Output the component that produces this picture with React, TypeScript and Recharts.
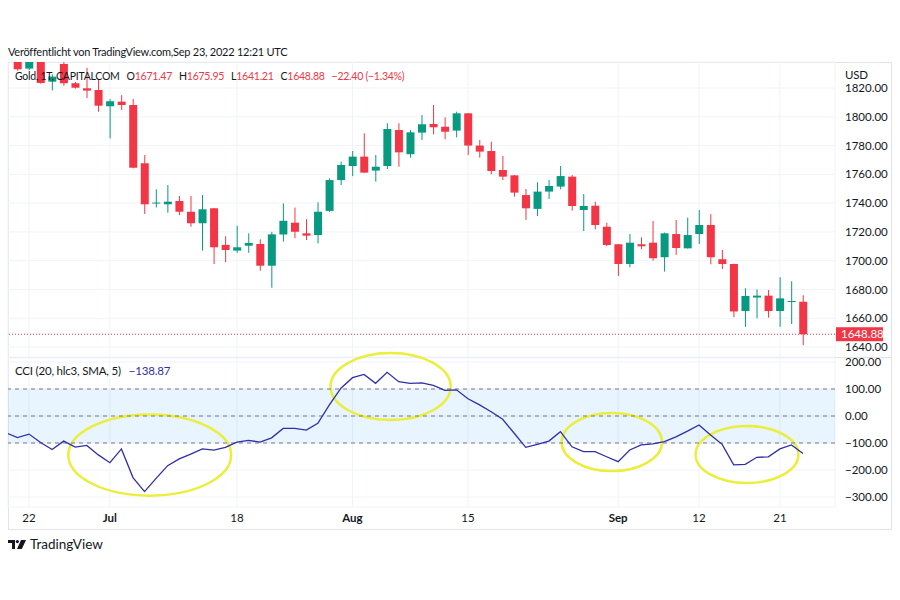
import { ComposedChart, Bar, Line, XAxis, YAxis, CartesianGrid, ReferenceLine, ReferenceArea } from 'recharts'

const FONT = 'Lato, "Noto Sans", sans-serif'
const TEXT = '#131722'
const RED = '#f23645'
const GREEN = '#089981'
const CCI_COLOR = '#2f2fa8'
const YELLOW = '#ebee3a'

// daily candles, Jun 21 – Sep 23 2022 (index 0..68)
const OPEN = [
  1840, 1833.5, 1842, 1824.4, 1836.7, 1823.3, 1819.8, 1818.6, 1807.3, 1810.5,
  1808.2, 1767.7, 1739.9, 1739.2, 1741.5, 1734, 1726, 1736.4, 1711, 1707,
  1710.4, 1711.6, 1696.5, 1718.2, 1726.4, 1719, 1717.8, 1734.6, 1756, 1765.8,
  1772.3, 1762.6, 1765.8, 1790.8, 1774, 1789, 1795, 1793.1, 1790.4, 1802.4,
  1780, 1776.2, 1763, 1759.3, 1745.6, 1736, 1748, 1751.5, 1758.4, 1735.2,
  1738.2, 1723.6, 1711.4, 1697.7, 1711.4, 1712.5, 1702.4, 1718.5, 1708.6, 1718.5,
  1724.8, 1701, 1697.7, 1665, 1674.4, 1675.7, 1665, 1671.5, 1671.47,
]
const HIGH = [
  1846, 1846, 1848, 1829.5, 1838, 1824.2, 1834, 1825.6, 1812.3, 1815,
  1812.4, 1773.4, 1749.6, 1752.6, 1745, 1745, 1745.6, 1736.6, 1717, 1724.3,
  1719, 1714.8, 1720, 1739.8, 1736.9, 1728.8, 1740.5, 1757.2, 1768.8, 1776.2,
  1788.5, 1773.4, 1795.5, 1795.5, 1790.8, 1801.2, 1808.2, 1799.6, 1803.5, 1802.6,
  1783.9, 1782.7, 1772.7, 1759.5, 1749.8, 1754.5, 1756, 1765.8, 1759.5, 1746.3,
  1741, 1726.4, 1711.6, 1718.5, 1716.2, 1727.6, 1719.5, 1728.3, 1729.9, 1735.2,
  1732.3, 1707.4, 1697.9, 1680.8, 1680, 1679.6, 1688.5, 1685.7, 1675.95,
]
const LOW = [
  1832, 1832.5, 1823, 1818.3, 1821.5, 1819.6, 1813, 1803.5, 1785, 1804.7,
  1764.2, 1732.4, 1737, 1733.3, 1731.7, 1723.6, 1707, 1697.7, 1699, 1705.5,
  1705.5, 1693, 1681.2, 1713.2, 1715.6, 1714.4, 1712, 1734, 1752.6, 1758.8,
  1761, 1754.9, 1763.7, 1765.3, 1771.6, 1783.9, 1787.8, 1784.3, 1785.7, 1773.4,
  1771.6, 1760, 1756, 1744.5, 1728.3, 1731, 1742.9, 1749.6, 1734.8, 1720.6,
  1721.8, 1710.2, 1689.4, 1695.4, 1708, 1700, 1692.4, 1704, 1708.4, 1711.6,
  1697.5, 1694.2, 1660.7, 1654, 1660, 1660.4, 1654, 1656, 1641.21,
]
const CLOSE = [
  1833, 1841, 1823.5, 1827.9, 1823.3, 1820.2, 1818.2, 1807.7, 1810.8, 1808.2,
  1764.6, 1739.2, 1740.4, 1741, 1734, 1726, 1735.7, 1709.3, 1707.4, 1709.3,
  1712.3, 1696.5, 1718.3, 1727.7, 1720.1, 1717.4, 1734, 1756, 1766.5, 1772.3,
  1761.2, 1765.3, 1791.5, 1775.3, 1789.2, 1794.8, 1792.7, 1789.6, 1802.4, 1780,
  1775.8, 1762.3, 1758.4, 1747.3, 1736.4, 1748, 1751.9, 1758.8, 1738, 1738,
  1724.8, 1710.9, 1697.7, 1712.5, 1710, 1701.7, 1719, 1708.8, 1717.8, 1724.8,
  1702.4, 1697.7, 1664.7, 1675.5, 1675.7, 1665, 1673.8, 1672, 1648.88,
]

// CCI (20, hlc3) values, index -1..68
const CCI = [
  -62,
  -80, -67, -98, -124, -93, -115, -109, -144, -173, -122,
  -228, -280, -231, -184, -159, -141, -122, -126, -116, -97,
  -90, -97, -81, -46, -46, -52, -27, 41, 103, 142,
  154, 121, 162, 127, 121, 123, 113, 95, 97, 64,
  41, 16, -12, -64, -116, -105, -93, -58, -114, -132,
  -132, -151, -169, -126, -107, -103, -95, -77, -56, -33,
  -70, -105, -181, -179, -153, -151, -122, -107, -138.87,
]

const TIME_TICKS = [1, 8, 19, 29, 39, 52, 59, 66]
const TIME_LABELS = ['22', 'Jul', '18', 'Aug', '15', 'Sep', '12', '21']
const MONTHS = ['Jul', 'Aug', 'Sep']
const PRICE_TICKS = [1640, 1660, 1680, 1700, 1720, 1740, 1760, 1780, 1800, 1820]
const CCI_TICKS = [-300, -200, -100, 0, 100, 200]
const CCI_BANDS = [100, 0, -100]
const LAST_CLOSE = 1648.88

// legend line: [prefix, value]
const OHLC = [['O', '1671.47'], ['H', '1675.95'], ['L', '1641.21'], ['C', '1648.88']]

// hand-drawn highlight ellipses: [x1, x2, y1, y2] in bar index / CCI units
const ELLIPSES = [
  [4.4, 18.5, -295, 6],
  [27.1, 37.5, -15, 233],
  [47.1, 55.8, -204, 11],
  [58.7, 67.6, -248, -37],
]

const candles = OPEN.map((o, i) => ({ i, o, h: HIGH[i], l: LOW[i], c: CLOSE[i] }))
const cciData = CCI.map((v, k) => ({ i: k - 1, cci: v }))

const fmt = (v: number) => (v < 0 ? '\u2212' : '') + Math.abs(v).toFixed(2)

const Candle = (props: any) => {
  const { x, y, width, height, payload } = props
  const { o, h, l, c } = payload
  const color = c >= o ? GREEN : RED
  const k = height / (h - l || 1)
  const yo = y + (h - o) * k
  const yc = y + (h - c) * k
  const top = Math.min(yo, yc)
  const cx = x + width / 2
  return (
    <g>
      <line x1={cx} x2={cx} y1={y} y2={y + height} stroke={color} strokeWidth={1} />
      <rect x={x} y={top} width={width} height={Math.max(1, Math.abs(yo - yc))} fill={color} />
    </g>
  )
}

const PriceTag = (props: any) => {
  const vb = props.viewBox
  if (!vb) return null
  const x = vb.x + vb.width + 1
  return (
    <g>
      <rect x={x} y={vb.y - 7} width={47} height={14} fill={RED} />
      <text x={x + 5} y={vb.y + 4} fill="#fff" fontSize={11.5} fontFamily={FONT}>{LAST_CLOSE.toFixed(2)}</text>
    </g>
  )
}

const TimeTick = (props: any) => {
  const { x, y, payload } = props
  const label = TIME_LABELS[TIME_TICKS.indexOf(payload.value)]
  return (
    <text x={x} y={y + 15} textAnchor="middle" fontSize={11.5} fontFamily={FONT} fill={TEXT}
      fontWeight={MONTHS.includes(label) ? 700 : 400}>{label}</text>
  )
}

const Ellipse = (props: any) => {
  const { x, y, width, height } = props
  return <ellipse cx={x + width / 2} cy={y + height / 2} rx={Math.abs(width) / 2} ry={Math.abs(height) / 2}
    fill="none" stroke={YELLOW} strokeWidth={2.5} />
}

const axisTick = { fill: TEXT, fontSize: 11.5, fontFamily: FONT }
const abs = (left: number, top: number) => ({ position: 'absolute' as const, left, top })
const legend = { fontSize: 11.5, lineHeight: '16px', whiteSpace: 'nowrap' as const, letterSpacing: '-0.2px' }

export default function App() {
  return (
    <div style={{ position: 'absolute', left: 0, top: 0, width: 900, height: 600, background: '#fff', fontFamily: FONT, color: TEXT, overflow: 'hidden' }}>
      <div style={{ ...abs(8, 62), width: 884, height: 468, border: '1px solid #e0e3eb', boxSizing: 'border-box' }} />
      <div style={{ ...abs(8, 357), width: 884, height: 1, background: '#e0e3eb' }} />

      <div style={abs(0, 0)}>
        <ComposedChart width={900} height={600} data={candles} margin={{ top: 62, right: 8, bottom: 243, left: 8 }}>
          <CartesianGrid stroke="#f0f3fa" />
          <XAxis type="number" dataKey="i" domain={[-0.82, 70.77]} ticks={TIME_TICKS} allowDataOverflow hide />
          <YAxis orientation="right" domain={[1633.06, 1838.07]} ticks={PRICE_TICKS} allowDataOverflow width={57}
            axisLine={false} tickLine={false} tickSize={6} tickMargin={4} tick={axisTick} tickFormatter={fmt} />
          <ReferenceLine y={LAST_CLOSE} stroke={RED} strokeDasharray="1 2" label={<PriceTag />} />
          <Bar dataKey={(d: any) => [d.l, d.h]} barSize={8} shape={<Candle />} isAnimationActive={false} />
        </ComposedChart>
      </div>

      <div style={abs(0, 0)}>
        <ComposedChart width={900} height={600} data={cciData} margin={{ top: 358, right: 8, bottom: 71, left: 8 }}>
          <ReferenceArea y1={-100} y2={100} fill="#2196f3" fillOpacity={0.1} stroke="none" />
          <CartesianGrid stroke="#f0f3fa" />
          <XAxis type="number" dataKey="i" domain={[-0.82, 70.77]} ticks={TIME_TICKS} allowDataOverflow height={22}
            axisLine={false} tickLine={false} tickSize={0} tickMargin={0} tick={<TimeTick />} interval={0} />
          <YAxis orientation="right" domain={[-337, 214.8]} ticks={CCI_TICKS} allowDataOverflow width={57}
            axisLine={false} tickLine={false} tickSize={6} tickMargin={4} tick={axisTick} tickFormatter={fmt} />
          {CCI_BANDS.map((v) => (
            <ReferenceLine key={v} y={v} stroke="#787b86" strokeDasharray="4 4" />
          ))}
          <Line dataKey="cci" stroke={CCI_COLOR} strokeWidth={1.3} dot={false} isAnimationActive={false} />
          {ELLIPSES.map(([x1, x2, y1, y2], k) => (
            <ReferenceArea key={k} x1={x1} x2={x2} y1={y1} y2={y2} ifOverflow="visible" shape={Ellipse} />
          ))}
        </ComposedChart>
      </div>

      <div style={{ ...abs(8, 44), ...legend, fontSize: 11, letterSpacing: '-0.25px' }}>
        Veröffentlicht von TradingView.com,Sep 23, 2022 12:21 UTC
      </div>
      <div style={{ ...abs(15, 68), ...legend, fontSize: 10.5, letterSpacing: '-0.25px', display: 'flex', gap: 7 }}>
        <span>Gold, 1T, CAPITALCOM</span>
        {OHLC.map(([k, v]) => (
          <span key={k}>{k}<span style={{ color: RED }}>{v}</span></span>
        ))}
        <span style={{ color: RED }}>{'\u221222.40 (\u22121.34%)'}</span>
      </div>
      <div style={{ ...abs(845, 67), ...legend }}>USD</div>

      <div style={{ ...abs(15, 363), ...legend }}>
        CCI (20, hlc3, SMA, 5)<span style={{ color: CCI_COLOR, marginLeft: 8 }}>{'\u2212138.87'}</span>
      </div>

      <div style={{ ...abs(8, 536), display: 'flex', alignItems: 'center', gap: 4 }}>
        <svg width={18} height={11} viewBox="0 0 18 11">
          <path d="M0 1h7v9H4V4H0z" fill={TEXT} />
          <circle cx={9.4} cy={2.6} r={1.6} fill={TEXT} />
          <path d="M13 1h5l-4.2 9H9z" fill={TEXT} />
        </svg>
        <span style={{ fontSize: 13.5 }}>TradingView</span>
      </div>
    </div>
  )
}
